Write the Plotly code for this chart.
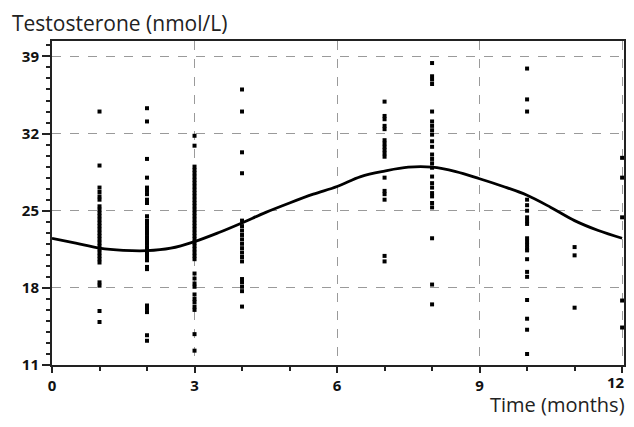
import plotly.graph_objects as go

# ---- data ----
m1 = [34.0, 29.1, 27.1, 26.7, 26.3, 26.0, 25.4, 25.1, 24.8, 24.5, 24.2, 23.9, 23.6, 23.3, 23.0,
      22.7, 22.4, 22.1, 21.8, 21.5, 21.2, 20.9, 20.6, 20.3, 18.5, 18.2, 15.9, 14.9]
m2 = [34.3, 33.1, 29.7, 28.0, 27.1, 26.8, 26.5, 26.0, 25.7, 24.5, 24.1, 23.8, 23.5, 23.2, 22.9,
      22.6, 22.3, 22.0, 21.7, 21.4, 21.1, 20.8, 20.5, 19.9, 19.7, 16.4, 16.1, 15.8, 13.7, 13.2]
m3 = [31.8, 30.9, 29.0, 28.7, 28.4, 28.1, 27.8, 27.5, 27.2, 26.9, 26.6, 26.3, 26.0, 25.7, 25.4,
      25.1, 24.8, 24.5, 24.2, 23.9, 23.6, 23.3, 23.0, 22.7, 22.4, 22.1, 21.8, 21.5, 21.2, 20.9,
      20.6, 19.3, 18.85, 18.4, 18.1, 17.4, 17.0, 16.7, 16.3, 16.0, 13.8, 12.3]
m4 = [36.0, 34.0, 30.3, 28.4, 24.1, 23.6, 23.2, 22.8, 22.4, 22.0, 21.6, 21.2, 20.8, 20.4,
      18.8, 18.5, 18.1, 17.7, 16.3]
m7 = [34.9, 33.6, 33.3, 32.7, 32.4, 31.4, 31.1, 30.8, 30.5, 30.2, 29.9, 28.0, 26.8, 26.5, 26.0,
      20.9, 20.4]
m8 = [38.4, 37.2, 36.9, 36.5, 34.0, 33.1, 32.7, 32.3, 31.9, 31.3, 30.8, 30.1, 29.7, 29.3, 28.9,
      28.1, 27.5, 27.1, 26.6, 26.3, 25.7, 25.3, 22.5, 18.3, 16.5]
m10 = [37.9, 35.1, 34.0, 26.0, 25.5, 25.0, 24.4, 24.1, 23.8, 22.5, 22.2, 21.9, 21.6, 21.4, 20.6,
       19.45, 19.0, 16.9, 15.2, 14.2, 12.0]
m11 = [21.7, 20.95, 16.2]
m12 = [29.8, 28.0, 24.4, 16.85, 14.4]

point_months = [1, 2, 3, 4, 7, 8, 10, 11, 12]
point_values = [m1, m2, m3, m4, m7, m8, m10, m11, m12]

curve_months = [0, 0.5, 1, 1.5, 2, 2.5, 3, 3.5, 4, 4.5, 5, 5.5, 6, 6.5, 7, 7.5, 8, 8.5, 9,
                9.5, 10, 10.5, 11, 11.5, 12]
curve_values = [22.5, 22.05, 21.6, 21.4, 21.37, 21.6, 22.2, 23.0, 23.9, 24.85, 25.7, 26.5, 27.2,
                28.1, 28.6, 28.95, 28.95, 28.55, 27.9, 27.2, 26.4, 25.3, 24.1, 23.2, 22.5]

y_ticks = [11, 18, 25, 32, 39]
x_ticks = [0, 3, 6, 9, 12]

xs, ys = [], []
for m, vals in zip(point_months, point_values):
    for v in vals:
        xs.append(m)
        ys.append(v)

fig = go.Figure()
fig.add_trace(go.Scatter(x=xs, y=ys, mode="markers",
                         marker=dict(symbol="square", size=4, color="black"),
                         cliponaxis=False, hoverinfo="skip"))
fig.add_trace(go.Scatter(x=curve_months, y=curve_values, mode="lines",
                         line=dict(color="black", width=2.8, shape="spline"),
                         hoverinfo="skip"))

font_family = "Open Sans, Noto Sans, sans-serif"
tick_font = dict(size=15, family=font_family, color="#111", weight="bold")
# last x tick label sits at the window edge: draw it right-aligned as an annotation
x_ticktext = [str(t) for t in x_ticks[:-1]] + [""]

fig.update_layout(
    width=618, height=411,
    margin=dict(l=44, r=2, t=33, b=54),
    paper_bgcolor="white", plot_bgcolor="white",
    showlegend=False,
    font=dict(family=font_family, color="#222"),
    xaxis=dict(range=[0, 12.04], tickvals=x_ticks, ticktext=x_ticktext,
               ticks="outside", ticklen=6, tickwidth=1.5, tickcolor="#222",
               minor=dict(dtick=1, ticks="outside", ticklen=4, tickcolor="#222", showgrid=False),
               showline=True, linecolor="#222", linewidth=2, mirror=True,
               showgrid=True, gridcolor="#9a9a9a", griddash="dash", gridwidth=1,
               zeroline=False, automargin=False, ticklabeloverflow="allow",
               tickfont=tick_font),
    yaxis=dict(range=[11, 40.4], tickvals=y_ticks, ticktext=[str(t) for t in y_ticks],
               ticks="outside", ticklen=8, tickwidth=1.5, tickcolor="#222",
               minor=dict(dtick=1, tick0=11, ticks="outside", ticklen=4, tickcolor="#222",
                          showgrid=False),
               showline=True, linecolor="#222", linewidth=2, mirror=True,
               showgrid=True, gridcolor="#9a9a9a", griddash="dash", gridwidth=1,
               zeroline=False, automargin=False, ticklabeloverflow="allow",
               tickfont=tick_font),
    annotations=[
        dict(text="Testosterone (nmol/L)", xref="paper", yref="paper", x=-0.074, y=1.0,
             yshift=2, xanchor="left", yanchor="bottom", showarrow=False,
             font=dict(size=21, family=font_family, color="#222")),
        dict(text="Time (months)", xref="paper", yref="paper", x=1.0, y=0, yshift=-54,
             xshift=2, xanchor="right", yanchor="bottom", showarrow=False, borderpad=0,
             font=dict(size=20, family=font_family, color="#222")),
        dict(text=str(x_ticks[-1]), xref="x", yref="paper", x=x_ticks[-1], y=0, yshift=-6,
             xshift=4, xanchor="right", yanchor="top", showarrow=False, borderpad=0,
             font=tick_font),
    ],
)

fig.write_html("out.html")
